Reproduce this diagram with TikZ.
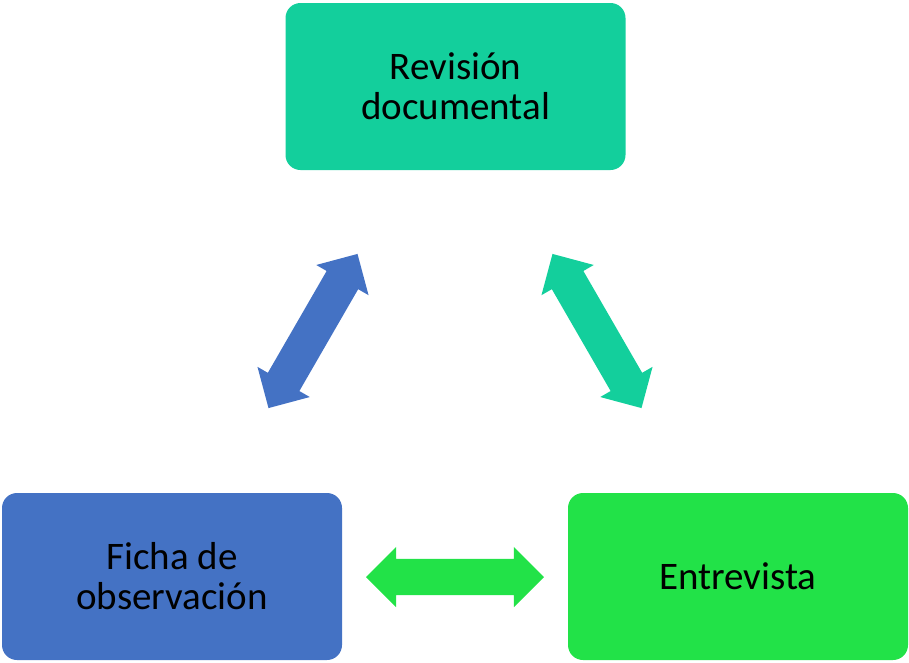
\documentclass[tikz,border=0pt]{standalone}
\usepackage{fontspec}
\setmainfont{Carlito}
\usetikzlibrary{shapes.arrows}
\definecolor{tealbox}{RGB}{19,207,156}
\definecolor{bluebox}{RGB}{68,114,196}
\definecolor{greenbox}{RGB}{34,226,72}
\begin{document}
\begin{tikzpicture} [x=1pt, y=-1pt,
  box/.style={rounded corners=15pt, minimum width=340pt, minimum height=167pt,
    align=center, font=\fontsize{39}{40}\selectfont, inner sep=0pt},
  link/.style={double arrow, minimum height=178pt, inner xsep=0pt,
    inner ysep=18pt, double arrow head extend=12pt}]
\useasboundingbox (0,0) rectangle (909,662);
\node[box, fill=tealbox] (revision) at (455.5,86.5) {Revisión\\documental};
\node[box, fill=bluebox] (ficha) at (172,576.5) {Ficha de\\observación};
\node[box, fill=greenbox] (entrevista) at (738,576.5) {Entrevista};
% arrows between the boxes
\node[link, fill=bluebox, rotate=60] (fichalink) at (313,331) {};
\node[link, fill=tealbox, rotate=-60] (revlink) at (597,331) {};
\node[link, fill=greenbox] (entlink) at (455,577) {};
\end{tikzpicture}
\end{document}
